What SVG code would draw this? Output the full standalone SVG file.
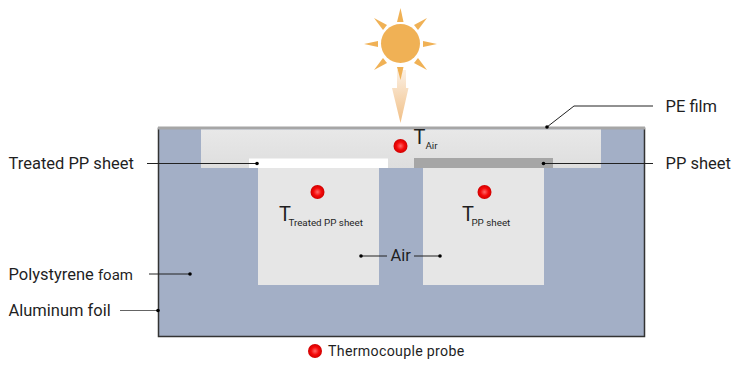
<svg xmlns="http://www.w3.org/2000/svg" width="734" height="366" viewBox="0 0 734 366">
  <style>
    text { font-family: Roboto, "Liberation Sans", sans-serif; fill: #1f1f1f; }
    .lbl { font-size: 16.500px; }
    .t { font-size: 20px; }
    .sub { font-size: 9.800px; }
    .lead { fill: none; stroke: #222; stroke-width: 1; }
    .dot { fill: #000; }
    .ray { fill: #f0b155; }
    .air { fill: #e6e6e6; }
  </style>
  <defs>
    <radialGradient id="probe" cx="50%" cy="50%" r="50%">
      <stop offset="0" stop-color="#ff6a6a"/>
      <stop offset="0.55" stop-color="#f50a0a"/>
      <stop offset="1" stop-color="#d00000"/>
    </radialGradient>
    <linearGradient id="beam" x1="0" y1="0" x2="0" y2="1">
      <stop offset="0" stop-color="#fbf0e4"/>
      <stop offset="1" stop-color="#f1bf85"/>
    </linearGradient>
    <linearGradient id="cavity" x1="0" y1="0" x2="0" y2="1">
      <stop offset="0" stop-color="#e8e8e8"/>
      <stop offset="1" stop-color="#dedede"/>
    </linearGradient>
    <circle id="tc" r="7" fill="url(#probe)"/>
  </defs>

  <g id="sun">
    <polygon fill="url(#beam)" points="397,70 406,70 406,88 408.500,88 400.500,123 392,88 397,88"/>
    <circle cx="400.500" cy="43.500" r="19.500" fill="#f0b155"/>
    <polygon class="ray" points="400.500,8 403.500,22 397,22"/>
    <polygon class="ray" points="400.500,80 403.500,67 397,67"/>
    <polygon class="ray" points="364,44 378,41 378,47"/>
    <polygon class="ray" points="437,44 423,41 423,47"/>
    <polygon class="ray" points="374,18 387,25 383,30"/>
    <polygon class="ray" points="427,18 414,25 418,30"/>
    <polygon class="ray" points="374,70 383,58 387,63"/>
    <polygon class="ray" points="427,70 418,58 414,63"/>
  </g>

  <g id="box">
    <rect x="158.500" y="127.500" width="486" height="209" fill="#a3afc6"/>
    <path d="M158.500 127.500V336.500H644.500V127.500" fill="none" stroke="#333" stroke-width="1.500"/>
    <rect x="158" y="126.500" width="487" height="3" fill="#a6a6a6"/>
  </g>

  <g id="air-gap">
    <rect x="201" y="129.500" width="400" height="38.500" fill="url(#cavity)"/>
    <rect class="air" x="258" y="168" width="121" height="117"/>
    <rect class="air" x="423" y="168" width="121" height="117"/>
  </g>

  <g id="treated-pp-sheet"><rect x="249" y="158.500" width="139" height="9.500" fill="#fff"/></g>
  <g id="pp-sheet"><rect x="414" y="158" width="139" height="10" fill="#a6a6a6"/></g>

  <g id="probe-air">
    <use href="#tc" x="400.500" y="146"/>
    <text class="t" x="413.500" y="143.500">T<tspan class="sub" dy="5.500">Air</tspan></text>
  </g>
  <g id="probe-treated">
    <use href="#tc" x="317.500" y="192"/>
    <text class="t" x="279" y="221">T<tspan class="sub" dx="-2.500" dy="5">Treated PP sheet</tspan></text>
  </g>
  <g id="probe-pp">
    <use href="#tc" x="484.500" y="192"/>
    <text class="t" x="462" y="221">T<tspan class="sub" dx="-2.500" dy="5">PP sheet</tspan></text>
  </g>

  <g id="connectors">
    <path class="lead" d="M147 163.500H257"/>
    <circle class="dot" cx="257" cy="163.500" r="1.800"/>
    <path class="lead" d="M653 163.500H543"/>
    <circle class="dot" cx="543.500" cy="163.500" r="1.800"/>
    <path class="lead" d="M653 106H574L547 127"/>
    <circle class="dot" cx="547" cy="127" r="1.800"/>
    <path class="lead" d="M149 274H190"/>
    <circle class="dot" cx="190" cy="274" r="1.800"/>
    <path class="lead" d="M120 310.500H158" stroke-opacity="0.700"/>
    <circle class="dot" cx="158" cy="310.500" r="1.800"/>
    <path class="lead" d="M361 256H387"/>
    <circle class="dot" cx="361" cy="256" r="1.800"/>
    <path class="lead" d="M414 256H440"/>
    <circle class="dot" cx="440" cy="256" r="1.800"/>
  </g>

  <g id="labels">
    <text class="lbl" x="8.500" y="169">Treated PP sheet</text>
    <text class="lbl" x="665.500" y="112">PE film</text>
    <text class="lbl" x="665.500" y="169">PP sheet</text>
    <text class="lbl" x="390.500" y="261">Air</text>
    <text class="lbl" x="8.500" y="279.500">Polystyrene <tspan style="font-size:15px">foam</tspan></text>
    <text class="lbl" x="8.500" y="316">Aluminum foil</text>
  </g>

  <g id="legend">
    <use href="#tc" x="315" y="351"/>
    <text x="328" y="356" style="font-size:14.200px;letter-spacing:0.300px">Thermocouple probe</text>
  </g>
</svg>
